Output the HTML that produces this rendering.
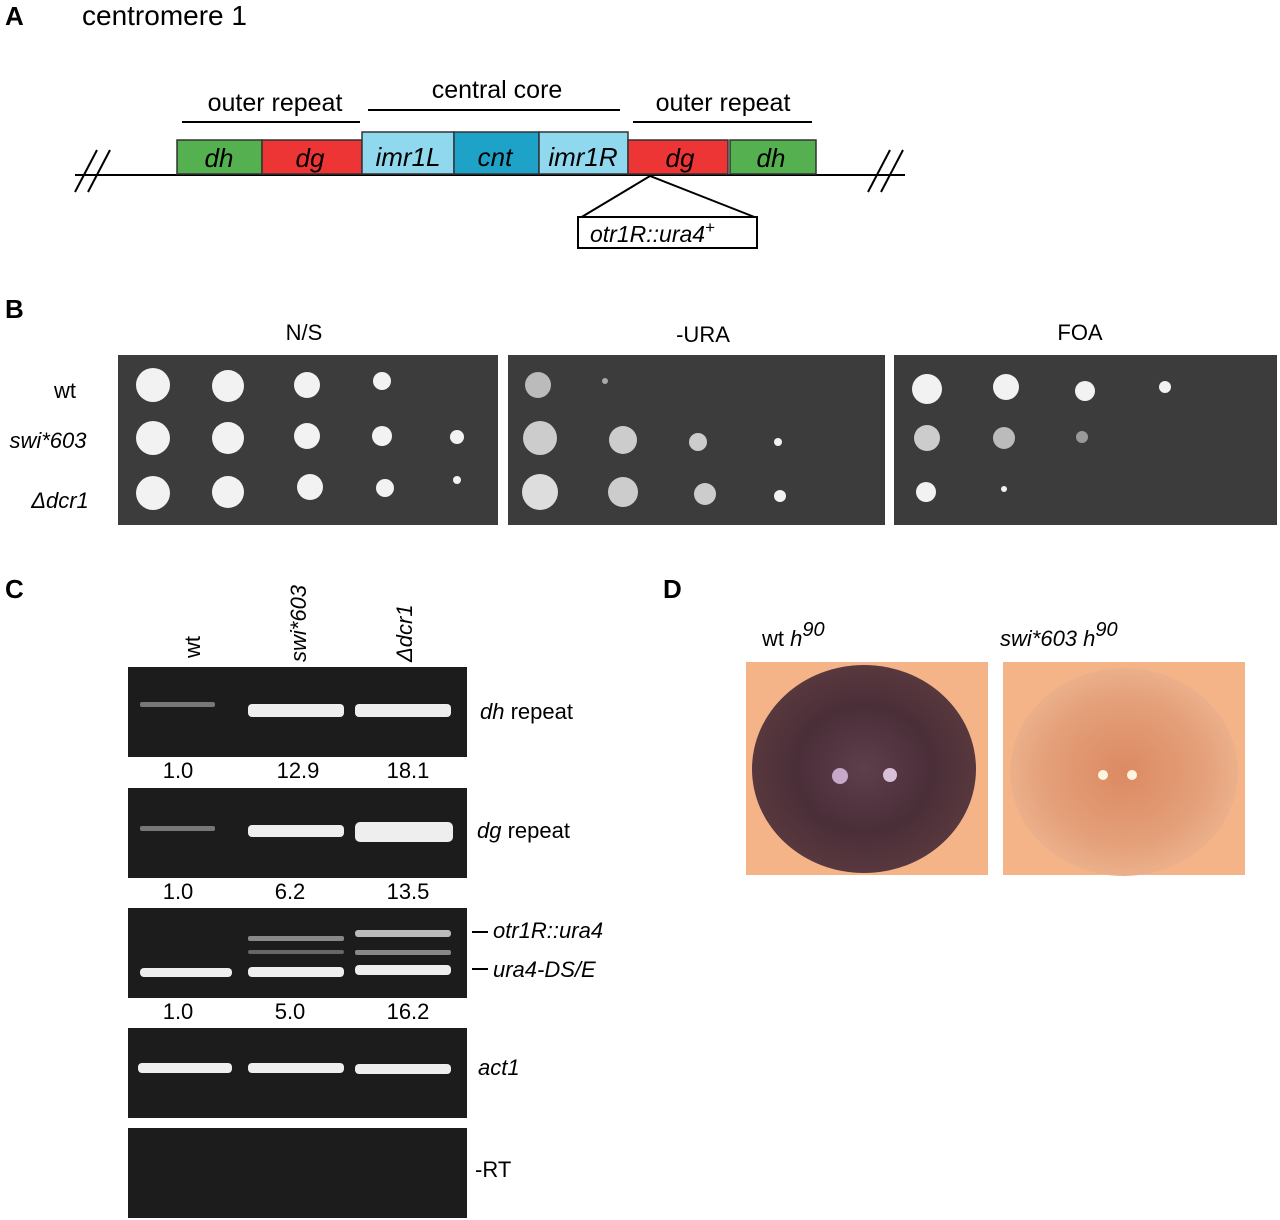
<!DOCTYPE html><html><head><style>body{margin:0;background:#fff}svg{display:block}text{font-family:"Liberation Sans",Arial,sans-serif}</style></head><body>
<svg width="1280" height="1220" viewBox="0 0 1280 1220">
<defs>
<radialGradient id="wt" cx="50%" cy="50%" r="50%"><stop offset="0" stop-color="#5e3e4c"/><stop offset="0.6" stop-color="#4a2e38"/><stop offset="1" stop-color="#58383e"/></radialGradient>
<radialGradient id="sw" cx="50%" cy="50%" r="50%"><stop offset="0" stop-color="#dc8a62"/><stop offset="0.7" stop-color="#e4a07a"/><stop offset="1" stop-color="#ebb08a"/></radialGradient>
</defs>
<text x="5" y="25" font-size="26" font-weight="bold">A</text>
<text x="82" y="25" font-size="28">centromere 1</text>
<line x1="75" y1="175" x2="905" y2="175" stroke="#000" stroke-width="2"/>
<line x1="75" y1="192" x2="97" y2="150" stroke="#000" stroke-width="2"/><line x1="88" y1="192" x2="110" y2="150" stroke="#000" stroke-width="2"/>
<line x1="868" y1="192" x2="890" y2="150" stroke="#000" stroke-width="2"/><line x1="881" y1="192" x2="903" y2="150" stroke="#000" stroke-width="2"/>
<g stroke="#333" stroke-width="1.5">
<rect x="177" y="140" width="85" height="34" fill="#55b050"/>
<rect x="262" y="140" width="100" height="34" fill="#ee3535"/>
<rect x="362" y="132" width="92" height="42" fill="#90d8ee"/>
<rect x="454" y="132" width="85" height="42" fill="#1ea2c8"/>
<rect x="539" y="132" width="89" height="42" fill="#90d8ee"/>
<rect x="628" y="140" width="100" height="34" fill="#ee3535"/>
<rect x="730" y="140" width="86" height="34" fill="#55b050"/>
</g>
<g font-size="26" font-style="italic" text-anchor="middle">
<text x="219" y="167">dh</text><text x="310" y="167">dg</text><text x="408" y="166">imr1L</text><text x="495" y="166">cnt</text><text x="583" y="166">imr1R</text><text x="680" y="167">dg</text><text x="771" y="167">dh</text>
</g>
<g font-size="25" text-anchor="middle">
<text x="275" y="111">outer repeat</text><text x="497" y="98">central core</text><text x="723" y="111">outer repeat</text>
</g>
<g stroke="#000" stroke-width="2"><line x1="182" y1="122" x2="360" y2="122"/><line x1="368" y1="110" x2="620" y2="110"/><line x1="633" y1="122" x2="812" y2="122"/>
<polyline points="580,218 650,176 757,218" fill="none"/></g>
<rect x="578" y="217" width="179" height="31" fill="#fff" stroke="#000" stroke-width="2"/>
<text x="590" y="242" font-size="23" font-style="italic">otr1R::ura4<tspan font-style="normal" dy="-9" font-size="17">+</tspan></text>

<text x="5" y="318" font-size="26" font-weight="bold">B</text>
<g font-size="22" text-anchor="middle"><text x="304" y="340">N/S</text><text x="703" y="342">-URA</text><text x="1080" y="340">FOA</text></g>
<g font-size="22" text-anchor="middle"><text x="65" y="398">wt</text><text x="48" y="448" font-style="italic">swi*603</text><text x="60" y="508" font-style="italic">Δdcr1</text></g>
<rect x="118" y="355" width="380" height="170" fill="#3c3c3c"/>
<rect x="508" y="355" width="377" height="170" fill="#3c3c3c"/>
<rect x="894" y="355" width="383" height="170" fill="#3c3c3c"/>
<g fill="#f2f2f2">
<circle cx="153" cy="385" r="17"/><circle cx="228" cy="386" r="16"/><circle cx="307" cy="385" r="13"/><circle cx="382" cy="381" r="9"/>
<circle cx="153" cy="438" r="17"/><circle cx="228" cy="438" r="16"/><circle cx="307" cy="436" r="13"/><circle cx="382" cy="436" r="10"/><circle cx="457" cy="437" r="7"/>
<circle cx="153" cy="493" r="17"/><circle cx="228" cy="492" r="16"/><circle cx="310" cy="487" r="13"/><circle cx="385" cy="488" r="9"/><circle cx="457" cy="480" r="4"/>
<circle cx="538" cy="385" r="13" fill="#bbb"/><circle cx="605" cy="381" r="3" fill="#aaa"/>
<circle cx="540" cy="438" r="17" fill="#ccc"/><circle cx="623" cy="440" r="14" fill="#ccc"/><circle cx="698" cy="442" r="9" fill="#ccc"/><circle cx="778" cy="442" r="4"/>
<circle cx="540" cy="492" r="18" fill="#ddd"/><circle cx="623" cy="492" r="15" fill="#ccc"/><circle cx="705" cy="494" r="11" fill="#ccc"/><circle cx="780" cy="496" r="6"/>
<circle cx="927" cy="389" r="15"/><circle cx="1006" cy="387" r="13"/><circle cx="1085" cy="391" r="10"/><circle cx="1165" cy="387" r="6"/>
<circle cx="927" cy="438" r="13" fill="#ccc"/><circle cx="1004" cy="438" r="11" fill="#bbb"/><circle cx="1082" cy="437" r="6" fill="#999"/>
<circle cx="926" cy="492" r="10"/><circle cx="1004" cy="489" r="3"/>
</g>

<text x="5" y="598" font-size="26" font-weight="bold">C</text>
<g font-size="22">
<text transform="translate(200,658) rotate(-90)">wt</text>
<text transform="translate(306,662) rotate(-90)" font-style="italic">swi*603</text>
<text transform="translate(412,662) rotate(-90)" font-style="italic">Δdcr1</text>
</g>
<g fill="#1c1c1c"><rect x="128" y="667" width="339" height="90"/><rect x="128" y="788" width="339" height="90"/><rect x="128" y="908" width="339" height="90"/><rect x="128" y="1028" width="339" height="90"/><rect x="128" y="1128" width="339" height="90"/></g>
<g fill="#eee">
<rect x="140" y="702" width="75" height="5" rx="2" fill="#777"/><rect x="248" y="704" width="96" height="13" rx="4"/><rect x="355" y="704" width="96" height="13" rx="4"/>
<rect x="140" y="826" width="75" height="5" rx="2" fill="#777"/><rect x="248" y="825" width="96" height="12" rx="4"/><rect x="355" y="822" width="98" height="20" rx="5"/>
<rect x="248" y="936" width="96" height="5" rx="2" fill="#888"/><rect x="248" y="950" width="96" height="4" rx="2" fill="#666"/><rect x="355" y="930" width="96" height="7" rx="3" fill="#bbb"/><rect x="355" y="950" width="96" height="5" rx="2" fill="#888"/>
<rect x="140" y="968" width="92" height="9" rx="4"/><rect x="248" y="967" width="96" height="10" rx="4"/><rect x="355" y="965" width="96" height="10" rx="4"/>
<rect x="138" y="1063" width="94" height="10" rx="4"/><rect x="248" y="1063" width="96" height="10" rx="4"/><rect x="355" y="1064" width="96" height="10" rx="4"/>
</g>
<g font-size="22" text-anchor="middle">
<text x="178" y="778">1.0</text><text x="298" y="778">12.9</text><text x="408" y="778">18.1</text>
<text x="178" y="899">1.0</text><text x="290" y="899">6.2</text><text x="408" y="899">13.5</text>
<text x="178" y="1019">1.0</text><text x="290" y="1019">5.0</text><text x="408" y="1019">16.2</text>
</g>
<g font-size="22">
<text x="480" y="719"><tspan font-style="italic">dh</tspan> repeat</text>
<text x="477" y="838"><tspan font-style="italic">dg</tspan> repeat</text>
<text x="493" y="938" font-style="italic">otr1R::ura4</text>
<text x="493" y="977" font-style="italic">ura4-DS/E</text>
<text x="478" y="1075" font-style="italic">act1</text>
<text x="475" y="1177">-RT</text>
</g>
<line x1="472" y1="932" x2="488" y2="932" stroke="#000" stroke-width="2"/><line x1="472" y1="969" x2="488" y2="969" stroke="#000" stroke-width="2"/>

<text x="663" y="598" font-size="26" font-weight="bold">D</text>
<text x="762" y="646" font-size="22">wt <tspan font-style="italic">h</tspan><tspan font-style="italic" dy="-10" font-size="20">90</tspan></text>
<text x="1000" y="646" font-size="22" font-style="italic">swi*603 h<tspan dy="-10" font-size="20">90</tspan></text>
<rect x="746" y="662" width="242" height="213" fill="#f4b488"/>
<ellipse cx="864" cy="769" rx="112" ry="104" fill="url(#wt)"/>
<circle cx="840" cy="776" r="8" fill="#c8a8c8"/><circle cx="890" cy="775" r="7" fill="#d8c0d8"/>
<rect x="1003" y="662" width="242" height="213" fill="#f4b488"/>
<ellipse cx="1124" cy="772" rx="114" ry="104" fill="url(#sw)"/>
<circle cx="1103" cy="775" r="5" fill="#fff4e0"/><circle cx="1132" cy="775" r="5" fill="#fff4e0"/>
</svg>
</body></html>
